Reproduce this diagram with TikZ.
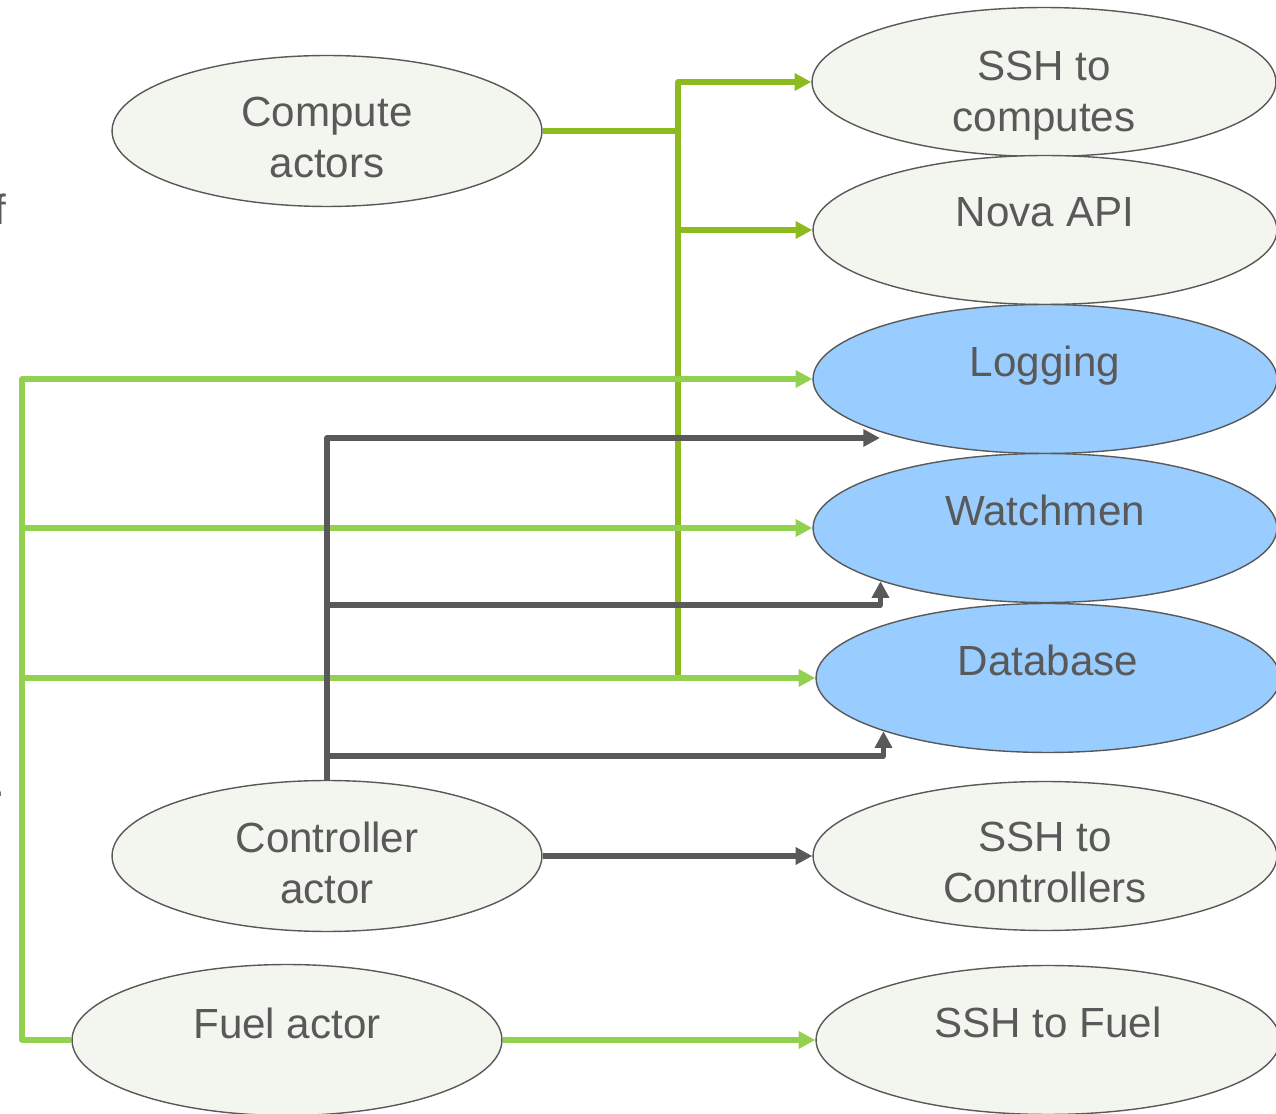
\documentclass[tikz,border=0pt]{standalone}
\usepackage{fontspec}
\setmainfont{Liberation Sans}
\usetikzlibrary{arrows.meta,shapes.geometric,calc}
\definecolor{txt}{HTML}{595959}
\definecolor{pale}{HTML}{F3F6EE}
\definecolor{skyb}{HTML}{99CCFF}
\definecolor{dgreen}{HTML}{8DBB1E}
\definecolor{lgreen}{HTML}{92D050}
\begin{document}
\begin{tikzpicture}[x=0.02cm,y=-0.02cm,
  ell/.style={ellipse, draw=txt, line width=0.8pt, inner sep=0pt,
    minimum width=9.28cm, minimum height=2.98cm, fill=pale},
  lell/.style={ell, minimum width=8.6cm, minimum height=3.02cm},
  dbfill/.style={fill=skyb},
  lbl/.style={anchor=north, align=center, text=txt, inner sep=0pt,
    font=\fontsize{24}{29}\selectfont},
  conn/.style={line width=3pt, line join=round},
  tip/.style={-{Triangle[length=9.5pt,width=9.5pt]}},
  dg/.style={conn, draw=dgreen},
  lg/.style={conn, draw=lgreen},
  gy/.style={conn, draw=txt}]
\useasboundingbox (0,0) rectangle (1276,1114);

% ellipses
\node[lell] (comp) at (327,131) {};
\node[lell] (ctrl) at (327,856) {};
\node[lell] (fuel) at (287,1040) {};
\node[ell] (sshc) at (1044,82) {};
\node[ell] (nova) at (1045,230) {};
\node[ell,dbfill] (log) at (1045,379) {};
\node[ell,dbfill] (watch) at (1045,528) {};
\node[ell,dbfill] (db) at (1048,678) {};
\node[ell] (sshctl) at (1045,856) {};
\node[ell] (sshf) at (1048,1040) {};

% labels
\node[lbl] (compT) at (327,97) {Compute\\actors};
\node[lbl] (ctrlT) at (327,822) {Controller\\actor};
\node[lbl] (fuelT) at (287,1008) {Fuel actor};
\node[lbl] (sshcT) at (1044,51) {SSH to\\computes};
\node[lbl] (novaT) at (1045,197) {Nova API};
\node[lbl] (logT) at (1045,346) {Logging};
\node[lbl] (watchT) at (1045,495) {Watchmen};
\node[lbl] (dbT) at (1048,645) {Database};
\node[lbl] (sshctlT) at (1045,822) {SSH to\\Controllers};
\node[lbl] (sshfT) at (1048,1007) {SSH to Fuel};

% cut-off texts at the left edge
\node[anchor=base east, inner sep=0pt, text=txt, font=\fontsize{24}{29}\selectfont] (cutf) at (7,225) {of};
\node[anchor=base east, inner sep=0pt, text=txt, font=\fontsize{24}{29}\selectfont] (cutdot) at (6,797) {.};

% coordinates
\coordinate (jg) at (678,131);
\coordinate (jgb) at (678,678);
\coordinate (lt) at (22,379);
\coordinate (logtip) at (880,438);

% dark green (compute actors)
\draw[dg,tip] (comp.east) -- (jg) |- (sshc.west);
\draw[dg,tip] (jg) |- (nova.west);
\draw[dg] (jg) -- (jgb);

% light green (fuel actor)
\draw[lg,tip] (fuel.west) -| (lt) -- (log.west);
\draw[lg,tip] (lt |- watch.west) -- (watch.west);
\draw[lg,tip] (lt |- db.west) -- (db.west);
\draw[lg,tip] (fuel.east) -- (sshf.west);

% gray (controller actor)
\draw[gy,tip] (ctrl.north) |- (logtip);
\draw[gy,tip] (ctrl.north |- 0,605) -| (watch.south west);
\draw[gy,tip] (ctrl.north |- 0,756) -| (db.south west);
\draw[gy,tip] (ctrl.east) -- (sshctl.west);
\end{tikzpicture}
\end{document}
